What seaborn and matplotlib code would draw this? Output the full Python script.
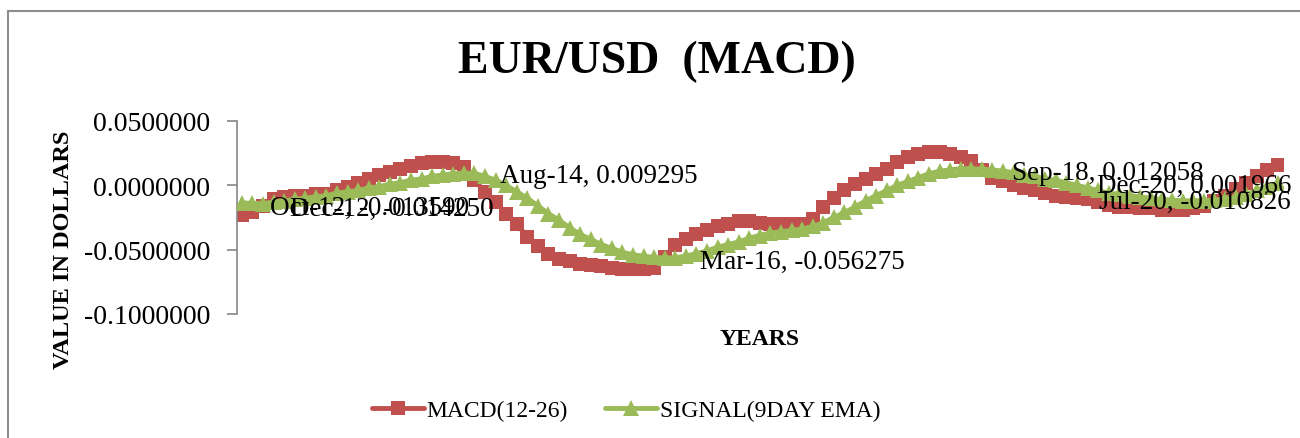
"""
EUR/USD MACD chart
Recreates an Excel style line chart of the MACD(12-26) line and its
9 day EMA signal line, monthly from Oct-12 to Dec-20.
"""

# Imports
import matplotlib
matplotlib.use('Agg')
import matplotlib.pyplot as plt
import seaborn as sns
import pandas as pd
from matplotlib.patches import Rectangle

sns.set_style('white')
plt.rcParams['font.family'] = ['Liberation Serif', 'DejaVu Serif']
plt.rcParams['text.color'] = 'black'
plt.rcParams['axes.labelcolor'] = 'black'
plt.rcParams['ytick.color'] = 'black'

# Data, one value per month Oct-12 .. Dec-20
months = pd.date_range('2012-10-01', '2020-12-01', freq='MS')

macd = [-0.023, -0.021, -0.016, -0.011, -0.009, -0.0085, -0.008, -0.007,
        -0.0065, -0.004, -0.001, 0.002, 0.005, 0.008, 0.010, 0.013, 0.015,
        0.017, 0.018, 0.018, 0.017, 0.014, 0.004, -0.005, -0.013, -0.022,
        -0.030, -0.040, -0.047, -0.053, -0.057, -0.059, -0.061, -0.062,
        -0.063, -0.064, -0.065, -0.065, -0.065, -0.064, -0.056, -0.046,
        -0.042, -0.038, -0.035, -0.032, -0.030, -0.028, -0.028, -0.029,
        -0.030, -0.030, -0.030, -0.030, -0.026, -0.017, -0.010, -0.004,
        0.001, 0.005, 0.009, 0.013, 0.018, 0.022, 0.024, 0.026, 0.026,
        0.024, 0.022, 0.019, 0.012, 0.006, 0.003, 0.000, -0.002, -0.004,
        -0.006, -0.008, -0.009, -0.010, -0.011, -0.013, -0.015, -0.017,
        -0.017, -0.018, -0.018, -0.019, -0.019, -0.019, -0.018, -0.016,
        -0.012, -0.008, -0.003, 0.002, 0.007, 0.012, 0.016]

signal = [-0.01359, -0.014, -0.01425, -0.013, -0.012, -0.011, -0.010,
          -0.009, -0.008, -0.006, -0.005, -0.004, -0.002, -0.001, 0.001,
          0.002, 0.004, 0.005, 0.007, 0.008, 0.009, 0.0095, 0.009295,
          0.007, 0.004, 0.000, -0.005, -0.010, -0.016, -0.022, -0.027,
          -0.033, -0.038, -0.042, -0.046, -0.049, -0.052, -0.054, -0.055,
          -0.056, -0.0565, -0.056275, -0.055, -0.053, -0.051, -0.048,
          -0.046, -0.044, -0.041, -0.039, -0.037, -0.036, -0.035, -0.034,
          -0.032, -0.029, -0.025, -0.021, -0.017, -0.012, -0.008, -0.004,
          0.000, 0.003, 0.006, 0.009, 0.011, 0.012, 0.013, 0.013, 0.0125,
          0.012058, 0.011, 0.010, 0.008, 0.007, 0.005, 0.004, 0.002, 0.000,
          -0.002, -0.004, -0.006, -0.007, -0.008, -0.009, -0.010, -0.011,
          -0.0115, -0.012, -0.012, -0.0118, -0.0115, -0.010826,
          -0.009, -0.007, -0.004, -0.001, 0.001966]

# data labels on the signal line: month index and pixel offset of the text
label_idx = [0, 2, 22, 41, 71, 93, 98]
label_off = [(28, -5), (27, -5), (26, -2), (25, -4), (20, -3),
             (-126, -2), (-181, -3)]

y_ticks = [0.05, 0.0, -0.05, -0.1]

RED = '#C0504D'
GREEN = '#9BBB59'


def make_df():
    df = pd.DataFrame({'idx': range(len(months)), 'month': months,
                       'MACD(12-26)': macd, 'SIGNAL(9DAY EMA)': signal})
    return df


def macd_plot(df):
    fig = plt.figure(figsize=(13, 4.39), dpi=100)
    ax = fig.add_axes([0.182, 0.2825, 0.805, 0.4396])

    # chart area border (top and left edges visible)
    fig.patches.append(Rectangle((8 / 1300, -0.1), 1.2, 1.1 - 12 / 439,
                                 transform=fig.transFigure, fill=False,
                                 edgecolor='#8c8c8c', linewidth=1.5))

    sns.lineplot(ax=ax, x='idx', y='MACD(12-26)', data=df, color=RED,
                 marker='s', markersize=10.5, markeredgewidth=0,
                 linewidth=3.5, label='MACD(12-26)', zorder=2)
    sns.lineplot(ax=ax, x='idx', y='SIGNAL(9DAY EMA)', data=df,
                 color=GREEN, marker='^', markersize=12, markeredgewidth=0,
                 linewidth=3.5, label='SIGNAL(9DAY EMA)', zorder=3)

    for i, (dx, dy) in zip(label_idx, label_off):
        txt = '{}, {:.6f}'.format(months[i].strftime('%b-%y'), signal[i])
        ax.annotate(txt, xy=(i, signal[i]), xytext=(dx, dy),
                    textcoords='offset pixels', ha='left', va='center',
                    fontsize=19.5, color='black', zorder=5)

    ax.set_xlim(-0.5, len(months) - 0.5)
    ax.set_ylim(-0.1, 0.05)
    ax.set_yticks(y_ticks)
    ax.set_yticklabels(['{:.7f}'.format(t) for t in y_ticks], fontsize=20)
    ax.set_xticks([])
    for side in ['top', 'right', 'bottom']:
        ax.spines[side].set_visible(False)
    ax.spines['left'].set_color('#868686')
    ax.spines['left'].set_linewidth(1.2)
    ax.tick_params(axis='y', direction='out', length=7, width=1.2,
                   color='#868686', labelcolor='black', left=True, pad=12)

    ax.set_xlabel('YEARS', fontsize=17, fontweight='bold', labelpad=10)
    ax.set_ylabel('VALUE IN DOLLARS', fontsize=17.5, fontweight='bold')
    ax.yaxis.set_label_coords(-0.155, 0.34)
    fig.text(0.505, 0.858, 'EUR/USD  (MACD)', ha='center', va='center',
             fontsize=33, fontweight='bold')

    ax.legend(loc='center', bbox_to_anchor=(0.372, -0.5), ncol=2,
              frameon=False, fontsize=17, handlelength=2.2,
              columnspacing=1.6, handletextpad=0.1)

    fig.savefig('out.png', dpi=100)


def main():
    df = make_df()
    macd_plot(df)


if __name__ == '__main__':
    main()
